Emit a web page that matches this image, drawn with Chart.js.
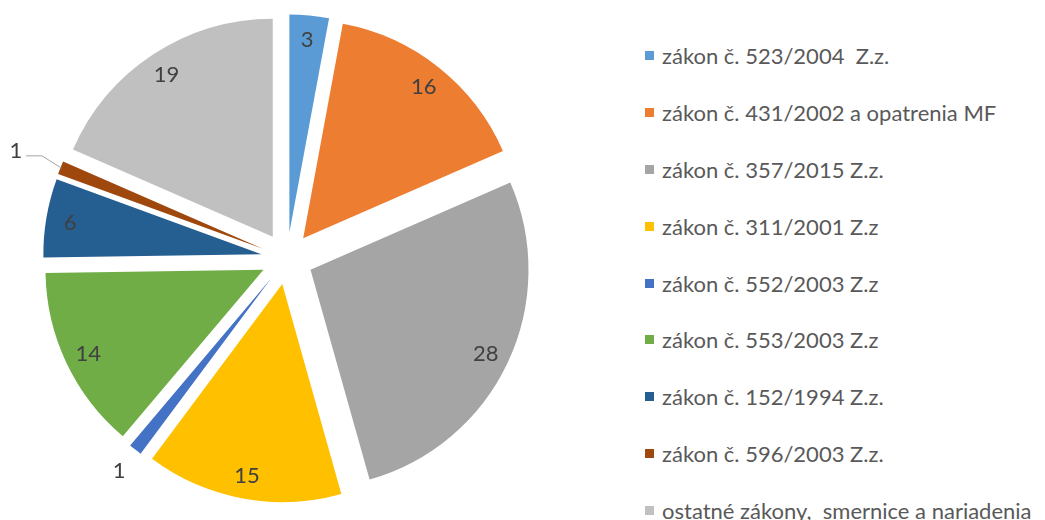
<!DOCTYPE html>
<html>
<head>
<meta charset="utf-8">
<script src="https://cdn.jsdelivr.net/npm/chart.js@4.4.1/dist/chart.umd.min.js"></script>
<style>
  body { margin: 0; background: #fff; }
  #wrap { position: relative; width: 1045px; height: 520px; overflow: hidden; }
  #pieBox { position: absolute; left: 0; top: 0; width: 574px; height: 517px; }
  #legend { position: absolute; left: 645px; top: 27px; font-family: Lato, sans-serif; font-size: 22px; color: #595959; }
  #legend .item { height: 56.9px; display: flex; align-items: center; white-space: pre; }
  #legend .box { width: 9px; height: 9px; margin-right: 8px; flex: none; }
</style>
</head>
<body>
<div id="wrap">
  <div id="pieBox"><canvas id="pie"></canvas></div>
  <div id="legend"></div>
</div>
<script>
const labels = [
    'zákon č. 523/2004  Z.z.',
    'zákon č. 431/2002 a opatrenia MF',
    'zákon č. 357/2015 Z.z.',
    'zákon č. 311/2001 Z.z',
    'zákon č. 552/2003 Z.z',
    'zákon č. 553/2003 Z.z',
    'zákon č. 152/1994 Z.z.',
    'zákon č. 596/2003 Z.z.',
    'ostatné zákony,  smernice a nariadenia'
];
const values = [3, 16, 28, 15, 1, 14, 6, 1, 19];
const colors = ['#5B9BD5', '#ED7D31', '#A5A5A5', '#FFC000', '#4472C4', '#70AD47', '#255E91', '#9E480E', '#C0C0C0'];

const EXPLODE = 26;

// draw each slice pulled out along its middle angle
const explodePlugin = {
    id: 'explode',
    beforeDatasetsDraw(chart) {
        const ctx = chart.ctx;
        chart.getDatasetMeta(0).data.forEach(arc => {
            const mid = (arc.startAngle + arc.endAngle) / 2;
            ctx.save();
            ctx.translate(Math.cos(mid) * EXPLODE, Math.sin(mid) * EXPLODE);
            arc.draw(ctx);
            ctx.restore();
        });
        return false;
    }
};

// value labels, small slices get theirs outside
const outside = { 4: { gap: 26 }, 7: { gap: 48, leader: true } };
const labelPlugin = {
    id: 'valueLabels',
    afterDraw(chart) {
        const ctx = chart.ctx;
        const ds = chart.data.datasets[0];
        ctx.save();
        ctx.font = '22px Lato, sans-serif';
        ctx.fillStyle = '#404040';
        ctx.textAlign = 'center';
        ctx.textBaseline = 'middle';
        chart.getDatasetMeta(0).data.forEach((arc, i) => {
            const mid = (arc.startAngle + arc.endAngle) / 2;
            const r = arc.outerRadius;
            const o = outside[i];
            const dist = o ? EXPLODE + r + o.gap : EXPLODE + r * 0.89;
            const lx = arc.x + Math.cos(mid) * dist;
            const ly = arc.y + Math.sin(mid) * dist;
            if (o && o.leader) {
                const ex = arc.x + Math.cos(mid) * (EXPLODE + r - 1);
                const ey = arc.y + Math.sin(mid) * (EXPLODE + r - 1);
                ctx.beginPath();
                ctx.strokeStyle = '#A6A6A6';
                ctx.lineWidth = 1;
                ctx.moveTo(lx + 10, ly + 6);
                ctx.lineTo(lx + 26, ly + 6);
                ctx.lineTo(ex, ey);
                ctx.stroke();
            }
            ctx.fillText(String(ds.data[i]), lx, ly + 1);
        });
        ctx.restore();
    }
};

new Chart(document.getElementById('pie'), {
    type: 'pie',
    data: {
        labels: labels,
        datasets: [{
            data: values,
            backgroundColor: colors,
            borderWidth: 0,
            radius: 218
        }]
    },
    options: {
        responsive: true,
        maintainAspectRatio: false,
        animation: false,
        layout: { padding: 0 },
        plugins: {
            legend: { display: false },
            tooltip: { enabled: false }
        }
    },
    plugins: [explodePlugin, labelPlugin]
});

const legendEl = document.getElementById('legend');
labels.forEach((name, i) => {
    const item = document.createElement('div');
    item.className = 'item';
    const box = document.createElement('span');
    box.className = 'box';
    box.style.background = colors[i];
    const txt = document.createElement('span');
    txt.textContent = name;
    item.appendChild(box);
    item.appendChild(txt);
    legendEl.appendChild(item);
});
</script>
</body>
</html>
